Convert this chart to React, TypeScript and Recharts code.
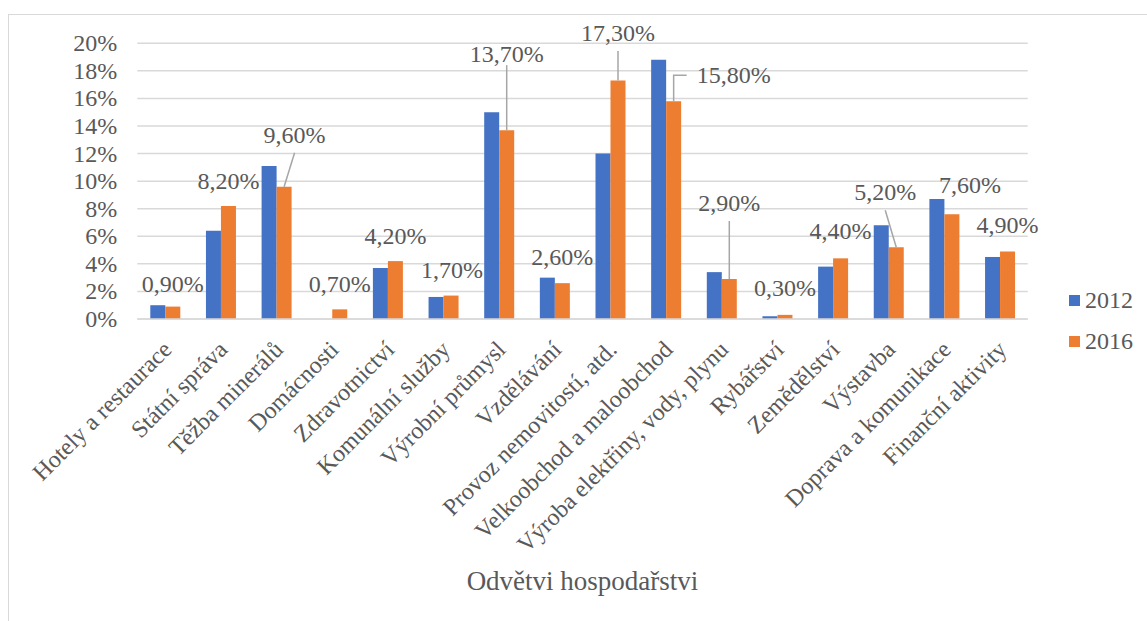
import React from "react";
import { Bar, BarChart, CartesianGrid, LabelList, XAxis, YAxis } from "recharts";

const CATEGORIES = [
  "Hotely a restaurace",
  "Státní správa",
  "Těžba minerálů",
  "Domácnosti",
  "Zdravotnictví",
  "Komunální služby",
  "Výrobní průmysl",
  "Vzdělávání",
  "Provoz nemovitostí, atd.",
  "Velkoobchod a maloobchod",
  "Výroba elektřiny, vody, plynu",
  "Rybářství",
  "Zemědělství",
  "Výstavba",
  "Doprava a komunikace",
  "Finanční aktivity",
];

const VALUES_2012 = [1.0, 6.4, 11.1, 0, 3.7, 1.6, 15.0, 3.0, 12.0, 18.8, 3.4, 0.2, 3.8, 6.8, 8.7, 4.5];
const VALUES_2016 = [0.9, 8.2, 9.6, 0.7, 4.2, 1.7, 13.7, 2.6, 17.3, 15.8, 2.9, 0.3, 4.4, 5.2, 7.6, 4.9];

const Y_TICKS = [0, 2, 4, 6, 8, 10, 12, 14, 16, 18, 20];
const AXIS_TITLE = "Odvětvi hospodařstvi";

const BLUE = "#4472c4";
const ORANGE = "#ed7d31";
const TEXT = "#595959";
const GRID = "#d9d9d9";
const FONT = "Liberation Serif, Times New Roman, serif";

// where each 2016 label sits relative to its bar top (px), plus optional leader line
type LabelPos = { dx: number; dy: number; anchor?: "start" | "middle"; line?: number[][] };
const LABEL_POS: LabelPos[] = [
  { dx: 0, dy: -15 },
  { dx: 0, dy: -17 },
  { dx: 10.5, dy: -44, line: [[10.5, -34], [0, 0]] },
  { dx: 0, dy: -17 },
  { dx: 0, dy: -17 },
  { dx: 1, dy: -17.5 },
  { dx: 0, dy: -68, line: [[0, -65], [0, 0]] },
  { dx: 0, dy: -18 },
  { dx: 0, dy: -39.5, line: [[0, -29.5], [0, 0]] },
  { dx: 23, dy: -18, anchor: "start", line: [[0, 0], [0, -26], [13, -26]] },
  { dx: 0, dy: -68, line: [[0, -58], [0, 0]] },
  { dx: 0, dy: -18.5 },
  { dx: 0, dy: -19 },
  { dx: -11, dy: -47, line: [[-11, -37], [0, 0]] },
  { dx: 18, dy: -21 },
  { dx: 0, dy: -18 },
];

const data = CATEGORIES.map((name, i) => ({
  name,
  y2012: VALUES_2012[i],
  y2016: VALUES_2016[i],
}));

const textStyle = { fontFamily: FONT, fontSize: 24, fill: TEXT };

function pct(v: number) {
  return v.toFixed(2).replace(".", ",") + "%";
}

function DataLabel(props: any) {
  const { x, y, width, value, index } = props;
  const pos = LABEL_POS[index] ?? { dx: 0, dy: -17 };
  const cx = Number(x) + Number(width) / 2;
  const top = Number(y);
  return (
    <g>
      {pos.line && (
        <polyline
          points={pos.line.map(([px, py]) => `${cx + px},${top + py}`).join(" ")}
          fill="none"
          stroke="#a6a6a6"
          strokeWidth={1.5}
        />
      )}
      <text x={cx + pos.dx} y={top + pos.dy} textAnchor={pos.anchor ?? "middle"} style={textStyle}>
        {pct(Number(value))}
      </text>
    </g>
  );
}

function CategoryTick(props: any) {
  const { x, y, payload } = props;
  return (
    <text
      transform={`translate(${x + 8},${y + 32}) rotate(-45)`}
      textAnchor="end"
      style={textStyle}
    >
      {payload.value}
    </text>
  );
}

function ValueTick(props: any) {
  const { x, y, payload } = props;
  return (
    <text x={x} y={y} dy={8} textAnchor="end" style={textStyle}>
      {`${payload.value}%`}
    </text>
  );
}

function AxisTitle(props: any) {
  const { viewBox } = props;
  const cx = viewBox.x + viewBox.width / 2;
  const by = viewBox.y + viewBox.height - 31;
  return (
    <text x={cx} y={by} textAnchor="middle" style={{ ...textStyle, fontSize: 27 }}>
      {AXIS_TITLE}
    </text>
  );
}

function LegendBox() {
  const items = [
    { label: "2012", color: BLUE },
    { label: "2016", color: ORANGE },
  ];
  return (
    <div style={{ position: "absolute", left: 1060, top: 265 }}>
      {items.map((it) => (
        <div key={it.label} style={{ display: "flex", alignItems: "center", height: 41 }}>
          <span style={{ width: 11, height: 11, background: it.color, display: "inline-block" }} />
          <span style={{ marginLeft: 5, fontSize: 24, color: TEXT }}>{it.label}</span>
        </div>
      ))}
    </div>
  );
}

export default function App() {
  return (
    <div
      style={{
        position: "fixed",
        left: 8,
        top: 14,
        width: 1139,
        height: 607,
        borderTop: `1px solid ${GRID}`,
        borderLeft: `1px solid ${GRID}`,
        background: "#fff",
        fontFamily: FONT,
      }}
    >
      <BarChart
        width={1138}
        height={606}
        data={data}
        margin={{ top: 28.3, right: 119.3, bottom: 0, left: 0.3 }}
        barSize={15}
        barGap={0}
      >
        <CartesianGrid vertical={false} stroke={GRID} strokeWidth={1.5} />
        <XAxis
          dataKey="name"
          interval={0}
          height={302}
          tickSize={0}
          tickMargin={0}
          tickLine={false}
          axisLine={{ stroke: GRID, strokeWidth: 1.5 }}
          tick={<CategoryTick />}
          label={<AxisTitle />}
        />
        <YAxis
          width={128}
          domain={[0, 20]}
          ticks={Y_TICKS}
          interval={0}
          axisLine={false}
          tickLine={false}
          tickSize={0}
          tickMargin={20}
          tick={<ValueTick />}
        />
        <Bar dataKey="y2012" name="2012" fill={BLUE} isAnimationActive={false} />
        <Bar dataKey="y2016" name="2016" fill={ORANGE} isAnimationActive={false}>
          <LabelList dataKey="y2016" content={<DataLabel />} />
        </Bar>
      </BarChart>
      <LegendBox />
    </div>
  );
}
